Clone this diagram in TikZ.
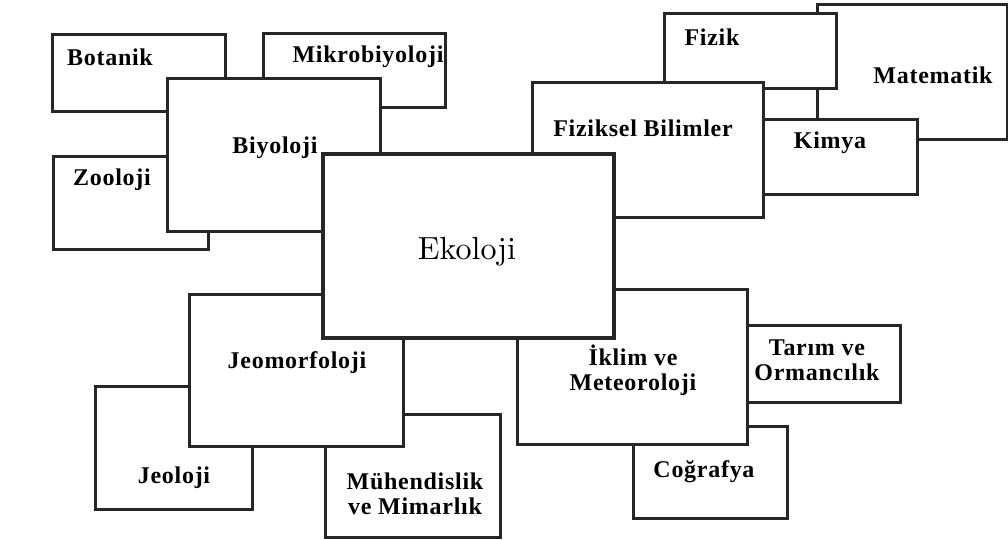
\documentclass[tikz,border=0pt]{standalone}
\usepackage{fontspec}
\newfontfamily\kutufont[LetterSpace=3]{Liberation Serif}
\newfontfamily\ekofont[Extension=.otf]{lmroman10-regular}

\begin{document}
\begin{tikzpicture}[
            x=0.5pt, y=-0.5pt,
            kutu/.style={rectangle, draw=black!85, line width=1.5pt, fill=white, inner sep=0pt, outer sep=0pt},
            merkez/.style={kutu, line width=2pt},
            etiket/.style={font=\kutufont\bfseries\fontsize{12}{12.5}\selectfont, align=center, inner sep=0pt},
            baslik/.style={font=\ekofont\fontsize{16}{18}\selectfont, inner sep=0pt}
        ]

        \useasboundingbox[fill=white] (0,0) rectangle (1008,540);

        % biyoloji grubu
        \node[kutu, minimum width=86.5pt, minimum height=38.5pt] (botanik) at (138.5, 73.5) {};
        \node[etiket] (botanikyazi) at (110, 57) {Botanik};
        \node[kutu, minimum width=91pt, minimum height=37pt] (mikro) at (354, 71) {};
        \node[etiket] (mikroyazi) at (368, 57) {Mikrobiyoloji};
        \node[kutu, minimum width=77.5pt, minimum height=46.5pt] (zooloji) at (130.5, 203.5) {};
        \node[etiket] (zoolojiyazi) at (112, 180) {Zooloji};
        \node[kutu, minimum width=106.5pt, minimum height=76.5pt] (biyoloji) at (273.5, 155.5) {};
        \node[etiket] (biyolojiyazi) at (275, 148) {Biyoloji};

        % fiziksel bilimler grubu
        \node[kutu, minimum width=95pt, minimum height=67.5pt] (matematik) at (912, 72.5) {};
        \node[etiket] (matematikyazi) at (933, 75) {Matematik};
        \node[kutu, minimum width=86pt, minimum height=37.5pt] (fizik) at (750, 51.5) {};
        \node[etiket] (fizikyazi) at (712, 37) {Fizik};
        \node[kutu, minimum width=77pt, minimum height=37.5pt] (kimya) at (840, 157.5) {};
        \node[etiket] (kimyayazi) at (830, 143) {Kimya};
        \node[kutu, minimum width=115.5pt, minimum height=67.5pt] (fiziksel) at (647.5, 150.5) {};
        \node[etiket] (fizikselyazi) at (643, 128) {Fiziksel Bilimler};

        % jeomorfoloji grubu
        \node[kutu, minimum width=78.5pt, minimum height=61.5pt] (jeoloji) at (173.5, 447.5) {};
        \node[etiket] (jeolojiyazi) at (174, 478) {Jeoloji};
        \node[kutu, minimum width=87.5pt, minimum height=61.5pt] (muhendislik) at (412.5, 475.5) {};
        \node[etiket] (muhendislikyazi) at (415, 494) {Mühendislik\\ve Mimarlık};
        \node[kutu, minimum width=107pt, minimum height=76pt] (jeomorfoloji) at (296, 370) {};
        \node[etiket] (jeomorfolojiyazi) at (297, 363) {Jeomorfoloji};

        % iklim grubu
        \node[kutu, minimum width=76.5pt, minimum height=38.5pt] (tarim) at (823.5, 363.5) {};
        \node[etiket] (tarimyazi) at (817, 360) {Tarım ve\\Ormancılık};
        \node[kutu, minimum width=77pt, minimum height=46pt] (cografya) at (710, 472) {};
        \node[etiket] (cografyayazi) at (704, 472) {Coğrafya};
        \node[kutu, minimum width=115pt, minimum height=77.5pt] (iklim) at (632, 366.5) {};
        \node[etiket] (iklimyazi) at (633, 370) {İklim ve\\Meteoroloji};

        % en ustte ekoloji
        \node[merkez, minimum width=145.5pt, minimum height=92pt] (ekoloji) at (468.5, 246) {};
        \node[baslik] (ekolojiyazi) at (467, 252) {Ekoloji};

    \end{tikzpicture}
\end{document}
